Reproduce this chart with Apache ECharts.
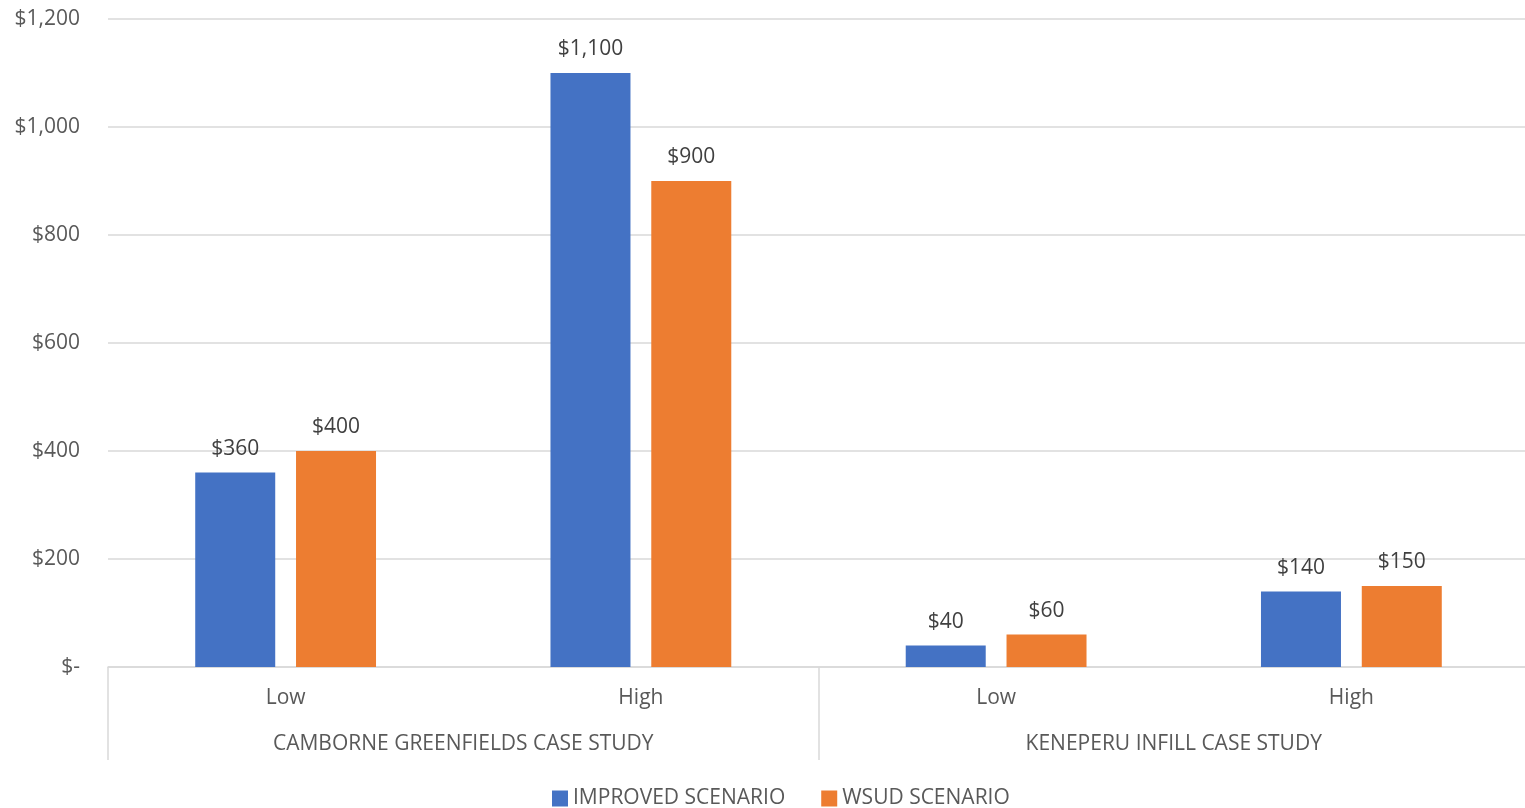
<!DOCTYPE html>
<html><head><meta charset="utf-8">
<script src="https://cdn.jsdelivr.net/npm/echarts@6/dist/echarts.min.js"></script>
<style>html,body{margin:0;padding:0;background:#fff}#c{width:1525px;height:808px}</style>
</head><body><div id="c"></div>
<script>
var categories = ['Low', 'High', 'Low', 'High'];
var groups = ['CAMBORNE GREENFIELDS CASE STUDY', 'KENEPERU INFILL CASE STUDY'];
var improved = [360, 1100, 40, 140];
var wsud = [400, 900, 60, 150];
var yTicks = [0, 200, 400, 600, 800, 1000, 1200];

var fontFam = '"Open Sans", "Noto Sans", sans-serif';
function money(v) { return v === 0 ? '$-' : '$' + v.toLocaleString('en-US'); }
var chart = echarts.init(document.getElementById('c'));
chart.setOption({
  animation: false,
  textStyle: { fontFamily: fontFam },
  grid: { left: 108, width: 1421, top: 19, bottom: 141, outerBoundsMode: 'none', containLabel: false },
  legend: {
    bottom: -6, left: 547, itemWidth: 16, itemHeight: 16, itemGap: 36,
    icon: 'rect',
    textStyle: { color: '#595959', fontSize: 21, fontFamily: fontFam },
    data: ['IMPROVED SCENARIO', 'WSUD SCENARIO']
  },
  xAxis: [{
    type: 'category', data: categories, position: 'bottom',
    axisLine: { lineStyle: { color: '#d9d9d9', width: 1.5 } },
    axisTick: { show: false },
    axisLabel: { color: '#595959', fontSize: 21, margin: 21, fontFamily: fontFam }
  }, {
    type: 'category', data: groups, position: 'bottom',
    axisLine: { show: false },
    axisTick: { show: true, length: 93, lineStyle: { color: '#d9d9d9', width: 1.5 } },
    axisLabel: { color: '#595959', fontSize: 21, margin: 67, fontFamily: fontFam }
  }],
  yAxis: {
    type: 'value', min: 0, max: 1200, interval: 200,
    axisLine: { show: false }, axisTick: { show: false },
    splitLine: { lineStyle: { color: '#d9d9d9', width: 1.5 } },
    axisLabel: { color: '#595959', fontSize: 21, margin: 28, fontFamily: fontFam,
      formatter: function (v) { return yTicks.indexOf(v) >= 0 ? money(v) : ''; } }
  },
  series: [{
    name: 'IMPROVED SCENARIO', type: 'bar', data: improved, barWidth: 80, barGap: '26%',
    itemStyle: { color: '#4472c4' },
    label: { show: true, position: 'top', distance: 13, color: '#404040', fontSize: 21, fontFamily: fontFam, formatter: function (p) { return money(p.value); } }
  }, {
    name: 'WSUD SCENARIO', type: 'bar', data: wsud, barWidth: 80,
    itemStyle: { color: '#ed7d31' },
    label: { show: true, position: 'top', distance: 13, color: '#404040', fontSize: 21, fontFamily: fontFam, formatter: function (p) { return money(p.value); } }
  }]
});
</script></body></html>
